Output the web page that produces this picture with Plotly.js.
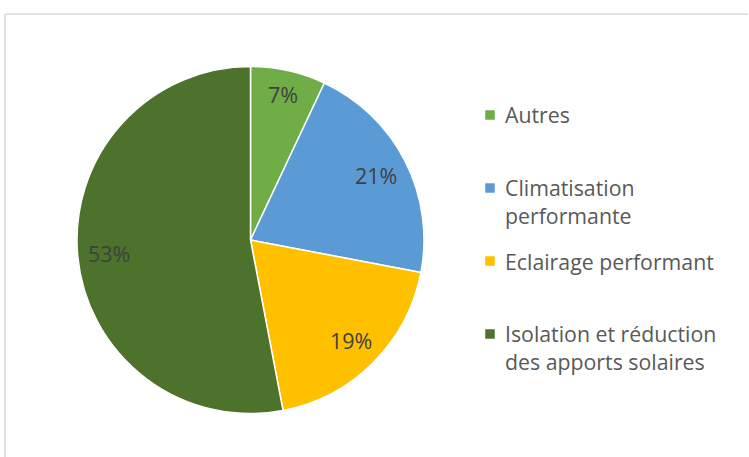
<!DOCTYPE html>
<html>
<head>
<meta charset="utf-8">
<script src="https://cdn.plot.ly/plotly-3.0.1.min.js"></script>
<style>html,body{margin:0;padding:0;background:#fff;}#chart{width:749px;height:457px;}</style>
</head>
<body>
<div id="chart"></div>
<script>
const categories = ["Autres", "Climatisation performante", "Eclairage performant", "Isolation et réduction des apports solaires"];
const legendLines = [["Autres"], ["Climatisation", "performante"], ["Eclairage performant"], ["Isolation et réduction", "des apports solaires"]];
const shares = [7, 21, 19, 53];
const colors = ["#70AD47", "#5B9BD5", "#FFC000", "#4C722C"];

const W = 749, H = 457;
const cx = 250.5, cy = 240, R = 173.5;
const labelSize = 21.5;
const legendSize = 21.3;
const legendFirstY = 115, legendStep = 73, legendLineH = 27;
const legendMarkX = 490, legendTextX = 503, legendMark = 9.5;
const fontFam = "'Open Sans', sans-serif";

const trace = {
  type: "pie",
  labels: categories,
  values: shares,
  sort: false,
  direction: "clockwise",
  rotation: 0,
  marker: {colors: colors, line: {color: "#ffffff", width: 1.5}},
  textinfo: "none",
  hovertemplate: "%{label}: %{percent}<extra></extra>",
  showlegend: false,
  domain: {
    x: [(cx - R) / W, (cx + R) / W],
    y: [(H - (cy + R)) / H, (H - (cy - R)) / H]
  }
};

// percentage labels placed at the inside end of each slice, from the data
const total = shares.reduce(function (a, b) { return a + b; }, 0);
let cum = 0;
const annotations = shares.map(function (v) {
  const mid = (cum + v / 2) / total * 2 * Math.PI;
  cum += v;
  const txt = Math.round(v / total * 100) + "%";
  const hw = txt.length * labelSize * 0.28, hh = labelSize * 0.45;
  const s = Math.sin(mid), c = Math.cos(mid);
  const r = R - 12 - (hw * Math.abs(s) + hh * Math.abs(c));
  const px = cx + r * s, py = cy - r * c;
  return {
    xref: "paper", yref: "paper", x: px / W, y: 1 - py / H,
    xanchor: "center", yanchor: "middle", showarrow: false,
    text: txt,
    font: {family: fontFam, size: labelSize, color: "#404040"}
  };
});

// legend (one entry per category)
const shapes = [
  {type: "line", xref: "paper", yref: "paper", x0: 5 / W, x1: 748 / W, y0: (H - 14) / H, y1: (H - 14) / H, line: {color: "#d9d9d9", width: 1.5}},
  {type: "line", xref: "paper", yref: "paper", x0: 5 / W, x1: 5 / W, y0: (H - 14) / H, y1: 0, line: {color: "#d9d9d9", width: 1.5}}
];
legendLines.forEach(function (lines, i) {
  const firstY = legendFirstY + i * legendStep;
  const centerY = firstY + (lines.length - 1) * legendLineH / 2;
  annotations.push({
    xref: "paper", yref: "paper", x: legendTextX / W, y: 1 - centerY / H,
    xanchor: "left", yanchor: "middle", align: "left", showarrow: false,
    text: lines.join("<br>"),
    font: {family: fontFam, size: legendSize, color: "#595959"}
  });
  shapes.push({
    type: "rect", xref: "paper", yref: "paper",
    x0: (legendMarkX - legendMark / 2) / W, x1: (legendMarkX + legendMark / 2) / W,
    y0: 1 - (firstY + legendMark / 2) / H, y1: 1 - (firstY - legendMark / 2) / H,
    fillcolor: colors[i], line: {width: 0}
  });
});

const layout = {
  width: W, height: H,
  margin: {l: 0, r: 0, t: 0, b: 0},
  paper_bgcolor: "#ffffff",
  showlegend: false,
  annotations: annotations,
  shapes: shapes
};

Plotly.newPlot("chart", [trace], layout, {displayModeBar: false, staticPlot: true});
</script>
</body>
</html>
